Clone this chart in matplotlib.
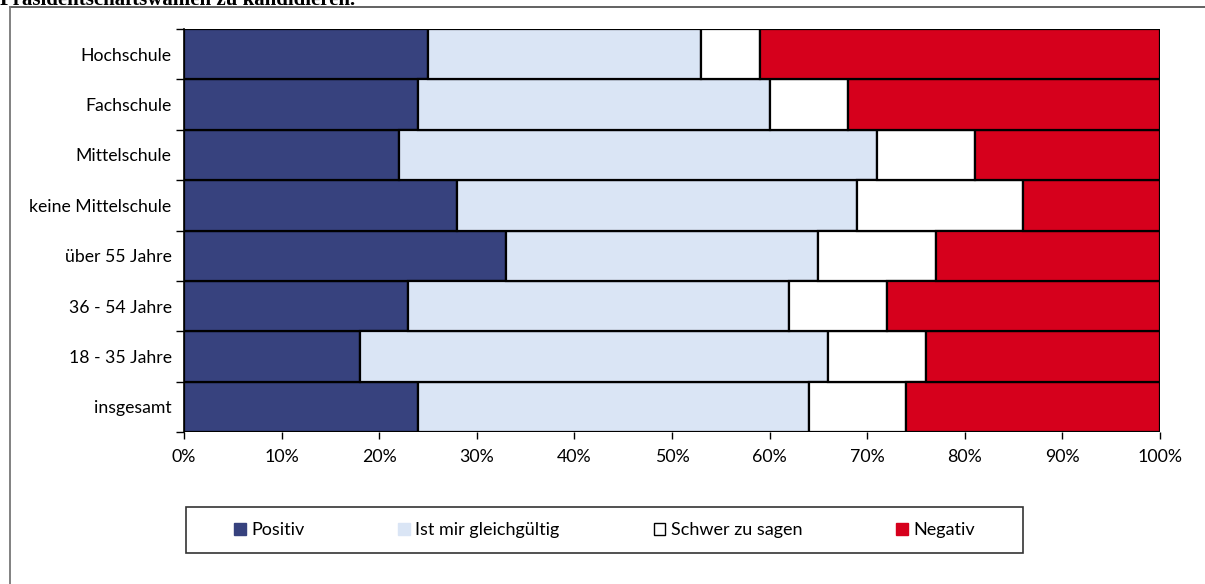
import matplotlib
matplotlib.use("Agg")
import matplotlib.pyplot as plt
from matplotlib.patches import Patch, Rectangle
from matplotlib.lines import Line2D
from matplotlib.ticker import FuncFormatter, FixedLocator

# Survey groups, drawn bottom to top
groups = ["insgesamt", "18 - 35 Jahre", "36 - 54 Jahre", "über 55 Jahre",
          "keine Mittelschule", "Mittelschule", "Fachschule", "Hochschule"]

# Shares in percent per answer
positiv = [24, 18, 23, 33, 28, 22, 24, 25]
gleichgueltig = [40, 48, 39, 32, 41, 49, 36, 28]
schwer = [10, 10, 10, 12, 17, 10, 8, 6]
negativ = [26, 24, 28, 23, 14, 19, 32, 41]

series_names = ["Positiv", "Ist mir gleichgültig", "Schwer zu sagen", "Negativ"]
series_values = [positiv, gleichgueltig, schwer, negativ]
colors = ["#37427E", "#DAE5F5", "#FFFFFF", "#D6001C"]

title_text = "Präsidentschaftswahlen zu kandidieren."

W, H = 1205, 584
fig = plt.figure(figsize=(W / 100, H / 100), dpi=100)
label_font = "Lato"

ax = fig.add_axes([184 / W, 1 - 432 / H, (1160 - 184) / W, (432 - 29) / H])

ypos = list(range(len(groups)))
left = [0] * len(groups)
for name, vals, col in zip(series_names, series_values, colors):
    ax.barh(ypos, vals, left=left, height=1.0, color=col,
            edgecolor="black", linewidth=1.6, label=name)
    left = [l + v for l, v in zip(left, vals)]

ax.set_xlim(0, 100)
ax.set_ylim(-0.5, len(groups) - 0.5)
ax.set_yticks(ypos)
ax.set_yticklabels(groups, fontfamily=label_font, fontsize=12.7)
ax.yaxis.set_minor_locator(FixedLocator([i - 0.5 for i in range(len(groups) + 1)]))
ax.tick_params(axis="y", which="major", length=0, pad=9)
ax.tick_params(axis="y", which="minor", length=6, width=1, color="black")
ax.set_xticks(range(0, 101, 10))
ax.xaxis.set_major_formatter(FuncFormatter(lambda v, p: f"{int(v)}%"))
ax.tick_params(axis="x", length=5, width=1, pad=7)
for lab in ax.get_xticklabels():
    lab.set_fontfamily(label_font)
    lab.set_fontsize(12.8)
for side in ["top", "right", "bottom"]:
    ax.spines[side].set_visible(False)
ax.spines["left"].set_linewidth(1.2)

# Outer frame lines (top and left)
fig.add_artist(Line2D([10 / W, 1.0], [1 - 7 / H, 1 - 7 / H], color="#555555", linewidth=1.3))
fig.add_artist(Line2D([10 / W, 10 / W], [1 - 7 / H, 0.0], color="#777777", linewidth=1.3))

# Heading text, running off the top edge
fig.text(0.0, 1 - 5 / H, title_text, fontfamily="Liberation Serif",
         fontweight="bold", fontsize=15, va="baseline", ha="left")

# Legend
handles = []
for name, col in zip(series_names, colors):
    ec = "black" if col == "#FFFFFF" else col
    handles.append(Patch(facecolor=col, edgecolor=ec, linewidth=1.0, label=name))
leg = fig.legend(handles=handles, ncol=4, loc="center",
                 bbox_to_anchor=((186 + 1023) / 2 / W, 1 - 530 / H),
                 frameon=False, handlelength=0.65, handleheight=0.65,
                 handletextpad=0.3, columnspacing=5.2,
                 prop={"family": label_font, "size": 13})
fig.add_artist(Rectangle((186 / W, 1 - 553 / H), (1023 - 186) / W, 46 / H,
                         transform=fig.transFigure, fill=False,
                         edgecolor="#333333", linewidth=1.2))

fig.savefig("out.png", dpi=100)
